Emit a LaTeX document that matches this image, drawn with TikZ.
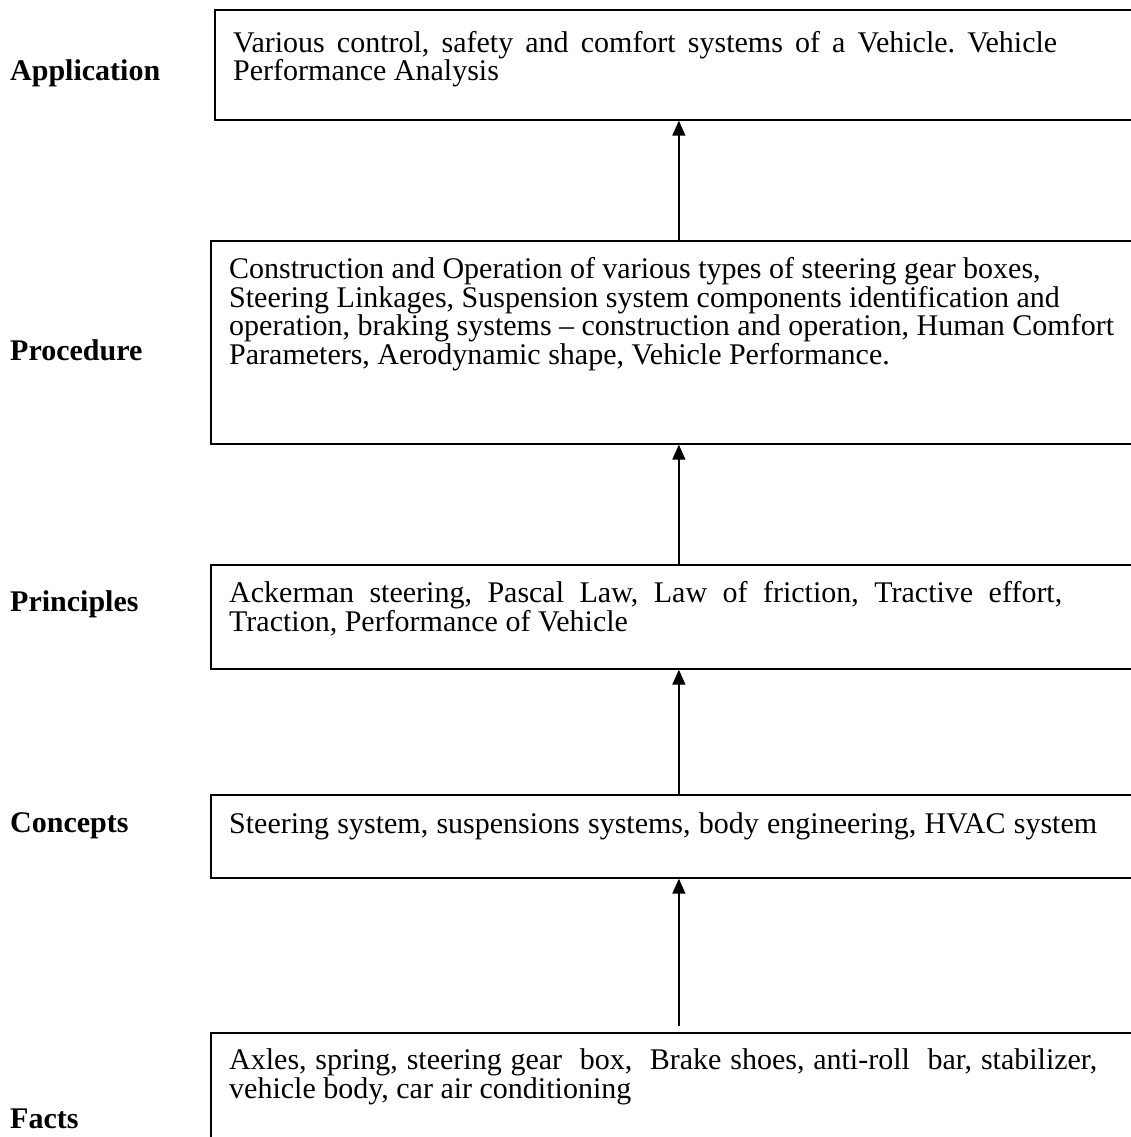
\documentclass[tikz,border=0pt]{standalone}
\usepackage{fontspec}
\setmainfont{Liberation Serif}
\usetikzlibrary{arrows.meta}
\begin{document}
\frenchspacing
\begin{tikzpicture}[x=1pt,y=-1pt,
  box/.style={draw, line width=1.7pt, inner sep=0pt, anchor=north west, minimum width=936pt},
  txt/.style={anchor=base west, inner sep=0pt, font=\fontsize{30}{34.5}\selectfont},
  lab/.style={anchor=base west, inner sep=0pt, font=\fontsize{30}{34.5}\selectfont\bfseries},
  arr/.style={line width=1.4pt, -{Triangle[width=13pt,length=15pt]}}]
\useasboundingbox (0,0) rectangle (1131,1137);
\clip (0,0) rectangle (1131,1137);
% boxes
\node[box, minimum width=928pt, minimum height=110pt] (b1) at (214,9) {};
\node[box, minimum height=203pt] (b2) at (210,240) {};
\node[box, minimum height=104pt] (b3) at (210,564) {};
\node[box, minimum height=83pt] (b4) at (210,794) {};
\node[box, minimum height=130pt] (b5) at (210,1032) {};
% arrows
\draw[arr, shorten <=6pt] (b5.north) -- (b4.south);
\draw[arr] (b4.north) -- (b3.south);
\draw[arr] (b3.north) -- (b2.south);
\draw[arr] (b2.north) -- (b1.south);
% labels
\node[lab] (l1) at (10,81) {Application};
\node[lab] (l2) at (10,360) {Procedure};
\node[lab] (l3) at (10,611) {Principles};
\node[lab] (l4) at (10,832) {Concepts};
\node[lab] (l5) at (10,1128) {Facts};
% texts
\node[txt] (t1a) at (233,53) {\makebox[824pt][s]{Various control, safety and comfort systems of a Vehicle. Vehicle}};
\node[txt] (t1b) at (233,81) {Performance Analysis};
\node[txt] (t2a) at (229,278) {Construction and Operation of various types of steering gear boxes,};
\node[txt] (t2b) at (229,307) {Steering Linkages, Suspension system components identification and};
\node[txt] (t2c) at (229,335) {operation, braking systems – construction and operation, Human Comfort};
\node[txt] (t2d) at (229,364) {Parameters, Aerodynamic shape, Vehicle Performance.};
\node[txt] (t3a) at (229,602) {\makebox[833pt][s]{Ackerman steering, Pascal Law, Law of friction, Tractive effort,}};
\node[txt] (t3b) at (229,631) {Traction, Performance of Vehicle};
\node[txt] (t4a) at (229,833) {\makebox[868pt][s]{Steering system, suspensions systems, body engineering, HVAC system}};
\node[txt] (t5a) at (229,1069) {\makebox[868pt][s]{Axles, spring, steering gear\ \ box,\ \ Brake shoes, anti-roll\ \ bar, stabilizer,}};
\node[txt] (t5b) at (229,1098) {vehicle body, car air conditioning};
\end{tikzpicture}
\end{document}
